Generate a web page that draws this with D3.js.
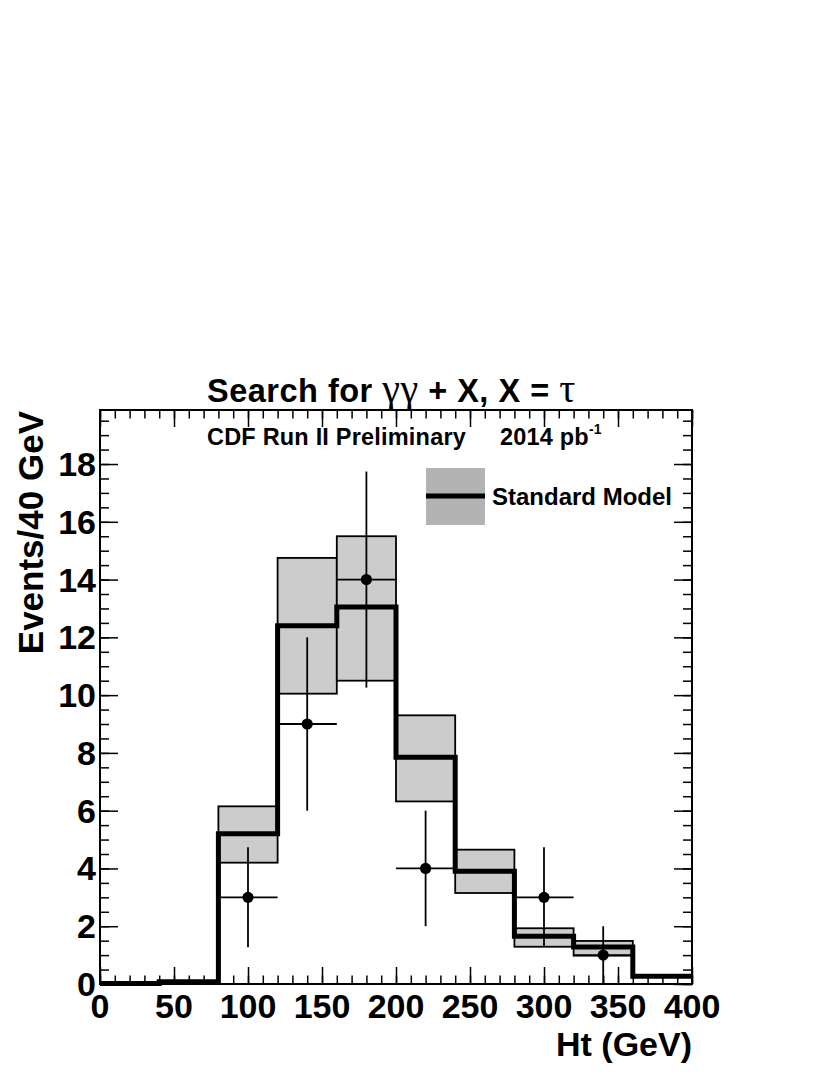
<!DOCTYPE html>
<html>
<head>
<meta charset="utf-8">
<script src="https://cdn.jsdelivr.net/npm/d3@7"></script>
<style>
  body { margin: 0; background: #fff; }
  svg { display: block; }
  text { font-family: "Liberation Sans", Arial, Helvetica, sans-serif; font-weight: bold; fill: #000; }
</style>
</head>
<body>
<svg id="chart" width="830" height="1075"></svg>
<script>
// ---- Data ----
const binEdges = [0, 40, 80, 120, 160, 200, 240, 280, 320, 360, 400];
const smValues = [0.02, 0.08, 5.2, 12.4, 13.05, 7.85, 3.9, 1.65, 1.28, 0.27];
const bandHigh = [null, null, 6.15, 14.75, 15.5, 9.3, 4.65, 1.93, 1.49, null];
const bandLow  = [null, null, 4.2, 10.05, 10.5, 6.32, 3.15, 1.29, 0.98, null];
const dataX    = [100, 140, 180, 220, 300, 340];
const dataY    = [3, 9, 14, 4, 3, 1];
const dataErr  = [1.73, 3, 3.74, 2, 1.73, 1];
const dataHalfWidth = 20;
const xTicks = [0, 50, 100, 150, 200, 250, 300, 350, 400];
const yTicks = [0, 2, 4, 6, 8, 10, 12, 14, 16, 18];

const svg = d3.select("#chart");
const L = 100, R = 692, T = 410, B = 984;
const x = d3.scaleLinear().domain([0, 400]).range([L, R]);
const y = d3.scaleLinear().domain([0, 19.87]).range([B, T]);

// Band
const bins = d3.range(smValues.length).map(i => ({
  x0: binEdges[i], x1: binEdges[i + 1], v: smValues[i], hi: bandHigh[i], lo: bandLow[i]
}));
svg.append("g").selectAll("rect").data(bins.filter(d => d.hi !== null)).join("rect")
  .attr("x", d => x(d.x0)).attr("width", d => x(d.x1) - x(d.x0))
  .attr("y", d => y(d.hi)).attr("height", d => y(d.lo) - y(d.hi))
  .attr("fill", "#cccccc").attr("stroke", "#000").attr("stroke-width", 1.8);

// SM step line
const stepPts = [];
bins.forEach(d => { stepPts.push([d.x0, d.v]); stepPts.push([d.x1, d.v]); });
svg.append("path")
  .attr("d", d3.line().x(p => x(p[0])).y(p => y(p[1]))(stepPts))
  .attr("fill", "none").attr("stroke", "#000").attr("stroke-width", 5)
  .attr("stroke-linejoin", "miter");

// Data points
const pts = dataX.map((v, i) => ({ x: v, y: dataY[i], e: dataErr[i] }));
const gd = svg.append("g").attr("stroke", "#000").attr("stroke-width", 1.8);
gd.selectAll("line.v").data(pts).join("line").attr("class", "v")
  .attr("x1", d => x(d.x)).attr("x2", d => x(d.x))
  .attr("y1", d => y(Math.max(0, d.y - d.e))).attr("y2", d => y(d.y + d.e));
gd.selectAll("line.h").data(pts).join("line").attr("class", "h")
  .attr("x1", d => x(d.x - dataHalfWidth)).attr("x2", d => x(d.x + dataHalfWidth))
  .attr("y1", d => y(d.y)).attr("y2", d => y(d.y));
svg.append("g").selectAll("circle").data(pts).join("circle")
  .attr("cx", d => x(d.x)).attr("cy", d => y(d.y)).attr("r", 5.6).attr("fill", "#000");

// Axes ticks (inside, all four sides)
function ticksGroup(axisGen, tr) {
  const g = svg.append("g").attr("transform", tr).call(axisGen);
  g.select(".domain").remove();
  g.selectAll("line").attr("stroke", "#000").attr("stroke-width", 1.5);
  return g;
}
const xMinor = d3.range(0, 401, 10);
const yMinor = d3.range(0, 19.8, 0.5);
ticksGroup(d3.axisBottom(x).tickValues(xMinor).tickSize(-8.5).tickFormat(""), `translate(0,${B})`);
ticksGroup(d3.axisBottom(x).tickValues(xTicks).tickSize(-17).tickFormat(""), `translate(0,${B})`);
ticksGroup(d3.axisTop(x).tickValues(xMinor).tickSize(-8.5).tickFormat(""), `translate(0,${T})`);
ticksGroup(d3.axisTop(x).tickValues(xTicks).tickSize(-17).tickFormat(""), `translate(0,${T})`);
ticksGroup(d3.axisLeft(y).tickValues(yMinor).tickSize(-9).tickFormat(""), `translate(${L},0)`);
ticksGroup(d3.axisLeft(y).tickValues(yTicks).tickSize(-18).tickFormat(""), `translate(${L},0)`);
ticksGroup(d3.axisRight(y).tickValues(yMinor).tickSize(-9).tickFormat(""), `translate(${R},0)`);
ticksGroup(d3.axisRight(y).tickValues(yTicks).tickSize(-18).tickFormat(""), `translate(${R},0)`);

// Tick labels
svg.append("g").selectAll("text").data(xTicks).join("text")
  .attr("x", d => x(d)).attr("y", 1018).attr("text-anchor", "middle")
  .attr("font-size", 34).text(d => d);
svg.append("g").selectAll("text").data(yTicks).join("text")
  .attr("x", 96).attr("y", d => y(d) + 12).attr("text-anchor", "end")
  .attr("font-size", 34).text(d => d);

// Frame
svg.append("rect").attr("x", L).attr("y", T).attr("width", R - L).attr("height", B - T)
  .attr("fill", "none").attr("stroke", "#000").attr("stroke-width", 2);

// Axis titles
svg.append("text").attr("x", R).attr("y", 1056).attr("text-anchor", "end")
  .attr("font-size", 34).text("Ht (GeV)");
svg.append("text").attr("transform", "translate(43,411) rotate(-90)")
  .attr("text-anchor", "end").attr("font-size", 35).text("Events/40 GeV");

// Title
const serif = "'Liberation Serif', 'DejaVu Serif', serif";
const title = svg.append("text").attr("x", 207).attr("y", 402).attr("font-size", 32.5)
  .attr("letter-spacing", 0.5);
title.append("tspan").text("Search for ");
title.append("tspan").attr("font-family", serif).attr("font-weight", "normal").attr("font-size", 40).text("γγ");
title.append("tspan").text(" + X, X = ");
title.append("tspan").attr("font-family", serif).attr("font-weight", "normal").attr("font-size", 40).text("τ");

// CDF label
const cdf = svg.append("text").attr("x", 207).attr("y", 445).attr("font-size", 23.5)
  .attr("letter-spacing", 0.2);
cdf.append("tspan").text("CDF Run II Preliminary");
cdf.append("tspan").attr("x", 500).text("2014 pb");
cdf.append("tspan").attr("font-size", 14).attr("dy", -11).text("-1");

// Legend
svg.append("rect").attr("x", 426).attr("y", 468).attr("width", 59).attr("height", 57).attr("fill", "#b3b3b3");
svg.append("line").attr("x1", 426).attr("x2", 485).attr("y1", 496).attr("y2", 496)
  .attr("stroke", "#000").attr("stroke-width", 5);
svg.append("text").attr("x", 492).attr("y", 505).attr("font-size", 24).text("Standard Model");
</script>
</body>
</html>
